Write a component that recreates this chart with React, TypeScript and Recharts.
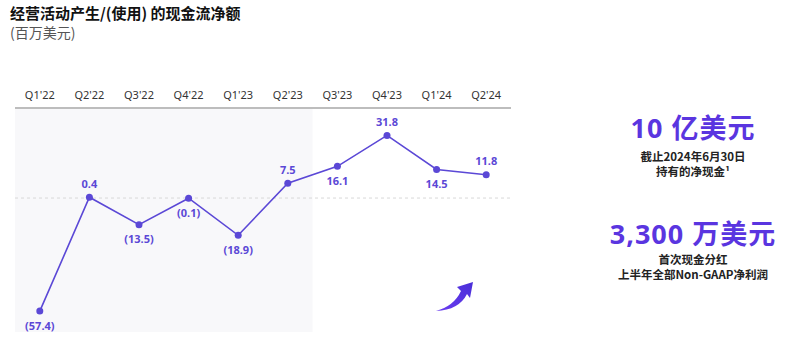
import React from 'react';
import { LineChart, Line, XAxis, YAxis, ReferenceArea, ReferenceLine, LabelList } from 'recharts';

const quarters = ["Q1'22", "Q2'22", "Q3'22", "Q4'22", "Q1'23", "Q2'23", "Q3'23", "Q4'23", "Q1'24", "Q2'24"];
const netCash = [-57.4, 0.4, -13.5, -0.1, -18.9, 7.5, 16.1, 31.8, 14.5, 11.8];
const labelAbove = [false, true, false, false, false, true, false, true, false, true];

const title = '经营活动产生/(使用) 的现金流净额';
const unit = '(百万美元)';
const stat1 = '10 亿美元';
const stat1Lines = ['截止2024年6月30日', '持有的净现金¹'];
const stat2 = '3,300 万美元';
const stat2Lines = ['首次现金分红', '上半年全部Non-GAAP净利润'];

const data = quarters.map((q, i) => ({ q, v: netCash[i] }));

const PURPLE = '#5b48d6';
const FONT = '"Noto Sans", "Noto Sans CJK SC", sans-serif';
const CJK = '"Noto Sans CJK SC", "Noto Sans", sans-serif';

const fmt = (v: number) => (v < 0 ? `(${Math.abs(v).toFixed(1)})` : v.toFixed(1));

const PointLabel = (props: any) => {
  const { x, y, index, value } = props;
  const above = labelAbove[index];
  return (
    <text
      x={x}
      y={above ? y - 14 : y + 14}
      textAnchor="middle"
      dominantBaseline="central"
      fill={PURPLE}
      fontSize={11}
      fontWeight={700}
      fontFamily={FONT}
    >
      {fmt(value)}
    </text>
  );
};

export default function App() {
  return (
    <div style={{ position: 'absolute', left: 0, top: 0, width: 800, height: 355, background: '#fff', fontFamily: CJK }}>
      <div style={{ position: 'absolute', left: 10, top: 4, fontSize: 15, lineHeight: '17px', fontWeight: 700, color: '#111', whiteSpace: 'nowrap' }}>{title}</div>
      <div style={{ position: 'absolute', left: 10, top: 24, fontSize: 14, lineHeight: '16px', color: '#555', whiteSpace: 'nowrap' }}>{unit}</div>

      <LineChart width={800} height={355} data={data} margin={{ top: 78, right: 289, bottom: 23, left: 15 }}>
        <XAxis
          dataKey="q"
          orientation="top"
          scale="band"
          height={30}
          tickLine={false}
          tickMargin={3}
          axisLine={{ stroke: '#bdbdbd', strokeWidth: 2 }}
          tick={{ fontSize: 11, fill: '#333', fontFamily: FONT }}
          interval={0}
        />
        <YAxis hide domain={[-68, 45.7]} type="number" />
        <ReferenceArea x1="Q1'22" x2="Q2'23" fill="#f8f8fa" fillOpacity={1} stroke="none" />
        <ReferenceLine y={0} stroke="#d8d8d8" strokeDasharray="3 3" />
        <Line
          type="linear"
          dataKey="v"
          stroke={PURPLE}
          strokeWidth={1.6}
          dot={{ r: 3.5, fill: PURPLE, stroke: PURPLE, strokeWidth: 0 }}
          activeDot={false}
          isAnimationActive={false}
        >
          <LabelList dataKey="v" content={PointLabel} />
        </Line>
      </LineChart>

      <svg style={{ position: 'absolute', left: 430, top: 278 }} width={50} height={40}>
        <defs>
          <linearGradient id="arr" x1="0" y1="1" x2="1" y2="0">
            <stop offset="0%" stopColor="#6a3cf0" />
            <stop offset="100%" stopColor="#4a2fd8" />
          </linearGradient>
        </defs>
        <path d="M6 33 Q24 28 31 13 L27 9 L43 4 L40 20 L37 16 Q29 32 6 33 Z" fill="url(#arr)" />
      </svg>

      <div style={{ position: 'absolute', left: 590, width: 206, top: 113, textAlign: 'center', color: '#5a35e0', fontSize: 27, letterSpacing: 1, fontWeight: 700, fontFamily: '"Open Sans", "Noto Sans CJK SC", sans-serif', lineHeight: '30px', whiteSpace: 'nowrap' }}>{stat1}</div>
      <div style={{ position: 'absolute', left: 590, width: 206, top: 149, textAlign: 'center', color: '#222', fontSize: 11.5, fontWeight: 700, lineHeight: '15px' }}>
        {stat1Lines.map((l) => <div key={l}>{l}</div>)}
      </div>
      <div style={{ position: 'absolute', left: 590, width: 206, top: 220, textAlign: 'center', color: '#5a35e0', fontSize: 27, letterSpacing: 1, fontWeight: 700, fontFamily: '"Open Sans", "Noto Sans CJK SC", sans-serif', lineHeight: '28px', whiteSpace: 'nowrap' }}>{stat2}</div>
      <div style={{ position: 'absolute', left: 590, width: 206, top: 252, textAlign: 'center', color: '#222', fontSize: 11.5, fontWeight: 700, lineHeight: '15px' }}>
        {stat2Lines.map((l) => <div key={l}>{l}</div>)}
      </div>
    </div>
  );
}
